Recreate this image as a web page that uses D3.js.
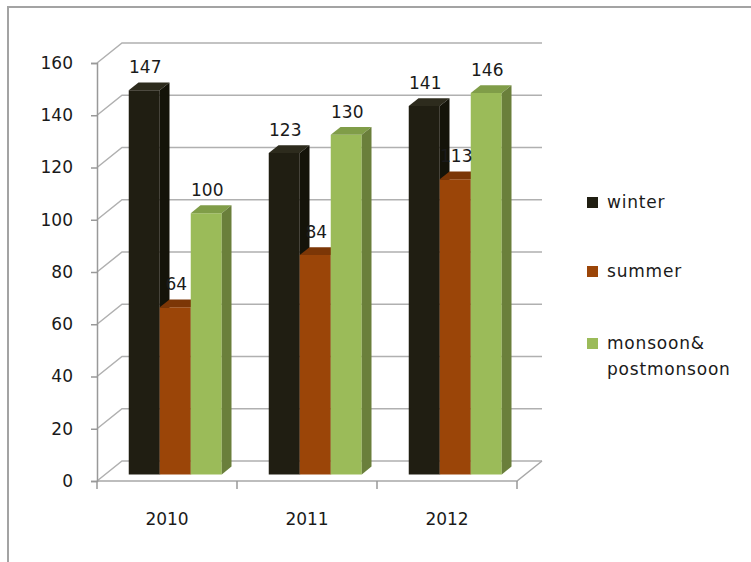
<!DOCTYPE html>
<html>
<head>
<meta charset="utf-8">
<script src="https://cdn.jsdelivr.net/npm/d3@7"></script>
<style>
  body { margin: 0; background: #fff; }
  svg { display: block; font-family: "DejaVu Sans", Verdana, sans-serif; }
</style>
</head>
<body>
<div id="chart-area"></div>
<script>
const years = ["2010", "2011", "2012"];
const seriesNames = ["winter", "summer", "monsoon&\npostmonsoon"];
const winter = [147, 123, 141];
const summer = [64, 84, 113];
const monsoon = [100, 130, 146];
const yTicks = [0, 20, 40, 60, 80, 100, 120, 140, 160];

const seriesValues = [winter, summer, monsoon];
const faces = [
  { front: "#201e12", top: "#2d2b1d", side: "#141309" },
  { front: "#9b4508", top: "#7c3606", side: "#6c2f05" },
  { front: "#9bbb59", top: "#809d48", side: "#6a7f3b" }
];

const width = 751,
  height = 562;

// 3D depth of the back wall
const depthX = 25,
  depthY = 20;
// bars sit between these depths
const z0 = 0.33,
  z1 = 0.72;

const svg = d3
  .select("#chart-area")
  .append("svg")
  .attr("width", width)
  .attr("height", height);

// outer frame (right and bottom fall off the picture)
svg
  .append("rect")
  .attr("x", 8)
  .attr("y", 7)
  .attr("width", 800)
  .attr("height", 600)
  .attr("fill", "none")
  .attr("stroke", "#a3a3a3")
  .attr("stroke-width", 2);

// Scales
const xScale = d3.scaleBand().domain(years).range([97, 517]);
const xInner = d3
  .scaleBand()
  .domain(d3.range(seriesValues.length))
  .range([0, xScale.bandwidth()])
  .paddingInner(0)
  .paddingOuter(0.758);
const yScale = d3.scaleLinear().domain([0, 160]).range([481, 63]);

const proj = (x, v, z) => [x + z * depthX, yScale(v) - z * depthY];
const line = d3.line();

// Gridlines: side wall diagonal + back wall
const grid = svg.append("g").attr("class", "grid");
yTicks.forEach(t => {
  grid
    .append("path")
    .attr(
      "d",
      line([
        proj(xScale.range()[0], t, 0),
        proj(xScale.range()[0], t, 1),
        proj(xScale.range()[1], t, 1)
      ])
    )
    .attr("fill", "none")
    .attr("stroke", "#b0b0b0")
    .attr("stroke-width", 1.5);
});

// Floor front edge and right diagonal
grid
  .append("path")
  .attr(
    "d",
    line([
      proj(xScale.range()[0], 0, 0),
      proj(xScale.range()[1], 0, 0),
      proj(xScale.range()[1], 0, 1)
    ])
  )
  .attr("fill", "none")
  .attr("stroke", "#a8a8a8")
  .attr("stroke-width", 1.5);

// Y axis
const yAxisGroup = svg
  .append("g")
  .attr("class", "y axis")
  .attr("transform", "translate(97,0)")
  .call(
    d3
      .axisLeft(yScale)
      .tickValues(yTicks)
      .tickSize(6)
      .tickPadding(18)
      .tickFormat(d3.format("d"))
  );
yAxisGroup.select(".domain").attr("stroke", "#999").attr("stroke-width", 1.5);
yAxisGroup.selectAll(".tick line").attr("stroke", "#999").attr("stroke-width", 1.5);
yAxisGroup
  .selectAll("text")
  .attr("font-size", "17px")
  .attr("font-family", "DejaVu Sans, sans-serif")
  .attr("fill", "#1a1a1a");

// X axis: labels at category centres, ticks on boundaries
const xAxisGroup = svg
  .append("g")
  .attr("class", "x axis")
  .attr("transform", "translate(0,481)")
  .call(d3.axisBottom(xScale).tickSize(0).tickPadding(32));
xAxisGroup.select(".domain").remove();
xAxisGroup
  .selectAll("text")
  .attr("font-size", "17px")
  .attr("font-family", "DejaVu Sans, sans-serif")
  .attr("fill", "#1a1a1a");

const boundaries = years.map(d => xScale(d)).concat([xScale.range()[1]]);
svg
  .append("g")
  .selectAll("line")
  .data(boundaries)
  .enter()
  .append("line")
  .attr("x1", d => d)
  .attr("x2", d => d)
  .attr("y1", 481)
  .attr("y2", 489)
  .attr("stroke", "#999")
  .attr("stroke-width", 1.5);

// Bars
const bars = svg.append("g").attr("class", "bars");
years.forEach((year, i) => {
  seriesValues.forEach((vals, s) => {
    const v = vals[i];
    const xl = xScale(year) + xInner(s);
    const xr = xl + xInner.bandwidth();
    const c = faces[s];
    const g = bars.append("g");
    // front face
    g.append("path")
      .attr(
        "d",
        line([proj(xl, 0, z0), proj(xr, 0, z0), proj(xr, v, z0), proj(xl, v, z0)]) + "Z"
      )
      .attr("fill", c.front);
    // top face
    g.append("path")
      .attr(
        "d",
        line([proj(xl, v, z0), proj(xr, v, z0), proj(xr, v, z1), proj(xl, v, z1)]) + "Z"
      )
      .attr("fill", c.top);
    // right side face
    g.append("path")
      .attr(
        "d",
        line([proj(xr, 0, z0), proj(xr, v, z0), proj(xr, v, z1), proj(xr, 0, z1)]) + "Z"
      )
      .attr("fill", c.side);
  });
});

// Value labels
const labels = svg.append("g").attr("class", "labels");
years.forEach((year, i) => {
  seriesValues.forEach((vals, s) => {
    const v = vals[i];
    const xc = xScale(year) + xInner(s) + xInner.bandwidth() / 2 + z0 * depthX + 1;
    labels
      .append("text")
      .attr("x", xc)
      .attr("y", yScale(v) - 23.5)
      .attr("text-anchor", "middle")
      .attr("font-size", "17px")
      .attr("fill", "#1a1a1a")
      .text(v);
  });
});

// Legend
const legendY = [202, 271, 343];
const legend = svg.append("g").attr("class", "legend");
seriesNames.forEach((name, s) => {
  legend
    .append("rect")
    .attr("x", 587)
    .attr("y", legendY[s] - 5)
    .attr("width", 11)
    .attr("height", 11)
    .attr("fill", faces[s].front);
  const txt = legend
    .append("text")
    .attr("x", 607)
    .attr("y", legendY[s] + 6)
    .attr("font-size", "17px")
    .attr("letter-spacing", "0.8px")
    .attr("fill", "#1a1a1a");
  name.split("\n").forEach((part, k) => {
    txt
      .append("tspan")
      .attr("x", 607)
      .attr("dy", k === 0 ? 0 : 26)
      .text(part);
  });
});
</script>
</body>
</html>
